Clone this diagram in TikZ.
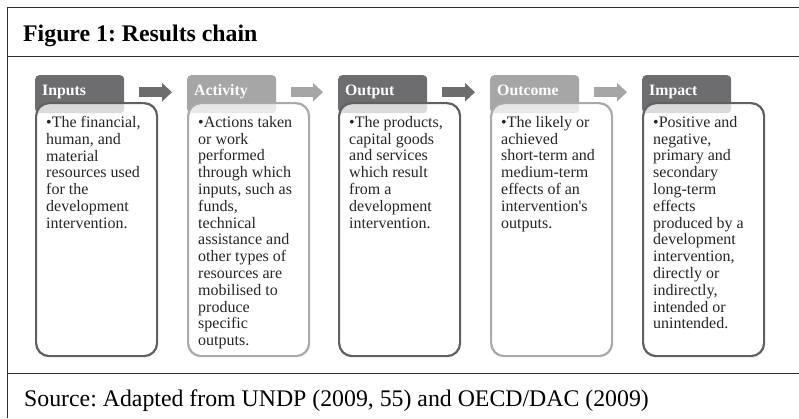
\documentclass[tikz,border=0pt]{standalone}
\usepackage{fontspec}
\setmainfont{Liberation Serif}
\frenchspacing
\usetikzlibrary{arrows.meta}
\definecolor{darktab}{RGB}{109,109,112}
\definecolor{lighttab}{RGB}{166,166,166}
\definecolor{darkedge}{RGB}{96,96,98}
\definecolor{lightedge}{RGB}{170,170,170}
\definecolor{framegray}{RGB}{45,45,45}

\begin{document}
\begin{tikzpicture}[x=1pt, y=-1pt]
    % Define styles
    \tikzstyle{tab} = [rectangle, rounded corners=4pt, minimum width=89pt, minimum height=38pt, anchor=north west, inner sep=0pt]
    \tikzstyle{body} = [rectangle, rounded corners=13pt, minimum width=121pt, minimum height=253pt, anchor=north west, inner sep=0pt, fill=white, fill opacity=0.75, line width=2.2pt]
    \tikzstyle{tablabel} = [anchor=base west, inner sep=0pt, text=white, font=\fontsize{15.8}{18}\selectfont\bfseries]
    \tikzstyle{bodytext} = [anchor=north west, inner sep=0pt, align=left, text=black!85, font=\fontsize{16}{16.8}\selectfont]
    \tikzstyle{flow} = [line width=10pt, -{Triangle[length=10pt, width=18pt]}]
    \tikzstyle{rule} = [draw=framegray, line width=1pt]

    \useasboundingbox (0,0) rectangle (799,418);

    % Frame and caption
    \draw [rule] (799,7) -- (7,7) -- (7,418);
    \draw [rule] (7,56.5) -- (799,56.5);
    \draw [rule] (7,373) -- (799,373);
    \node [anchor=base west, inner sep=0pt, font=\fontsize{23.8}{28}\selectfont\bfseries] (title) at (23,41.7) {Figure 1: Results chain};
    \node [anchor=base west, inner sep=0pt, font=\fontsize{23.8}{28}\selectfont] (source) at (24,406) {Source: Adapted from UNDP (2009, 55) and OECD/DAC (2009)};

    % Inputs
    \node [tab, fill=darktab] (inputs_tab) at (35,75) {};
    \node [tablabel] (inputs_label) at (42,95) {Inputs};
    \node [body, draw=darkedge] (inputs_body) at (35,102) {};
    \node [bodytext] (inputs_text) at (46,116) {•The financial,\\human, and\\material\\resources used\\for the\\development\\intervention.};

    % Activity
    \node [tab, fill=lighttab] (activity_tab) at (187,75) {};
    \node [tablabel] (activity_label) at (194,95) {Activity};
    \node [body, draw=lightedge] (activity_body) at (187,102) {};
    \node [bodytext] (activity_text) at (198,116) {•Actions taken\\or work\\performed\\through which\\inputs, such as\\funds,\\technical\\assistance and\\other types of\\resources are\\mobilised to\\produce\\specific\\outputs.};

    % Output
    \node [tab, fill=darktab] (output_tab) at (338,75) {};
    \node [tablabel] (output_label) at (345,95) {Output};
    \node [body, draw=darkedge] (output_body) at (338,102) {};
    \node [bodytext] (output_text) at (349,116) {•The products,\\capital goods\\and services\\which result\\from a\\development\\intervention.};

    % Outcome
    \node [tab, fill=lighttab] (outcome_tab) at (490,75) {};
    \node [tablabel] (outcome_label) at (497,95) {Outcome};
    \node [body, draw=lightedge] (outcome_body) at (490,102) {};
    \node [bodytext] (outcome_text) at (501,116) {•The likely or\\achieved\\short-term and\\medium-term\\effects of an\\intervention\textquotesingle s\\outputs.};

    % Impact
    \node [tab, fill=darktab] (impact_tab) at (642,75) {};
    \node [tablabel] (impact_label) at (649,95) {Impact};
    \node [body, draw=darkedge] (impact_body) at (642,102) {};
    \node [bodytext] (impact_text) at (653,116) {•Positive and\\negative,\\primary and\\secondary\\long-term\\effects\\produced by a\\development\\intervention,\\directly or\\indirectly,\\intended or\\unintended.};

    % Arrows between stages
    \draw [flow, darktab] ([xshift=15pt,yshift=2pt]inputs_tab.east) -- ([xshift=-15pt,yshift=2pt]activity_tab.west);
    \draw [flow, lighttab] ([xshift=15pt,yshift=2pt]activity_tab.east) -- ([xshift=-15pt,yshift=2pt]output_tab.west);
    \draw [flow, darktab] ([xshift=15pt,yshift=2pt]output_tab.east) -- ([xshift=-15pt,yshift=2pt]outcome_tab.west);
    \draw [flow, lighttab] ([xshift=15pt,yshift=2pt]outcome_tab.east) -- ([xshift=-15pt,yshift=2pt]impact_tab.west);
\end{tikzpicture}
\end{document}
